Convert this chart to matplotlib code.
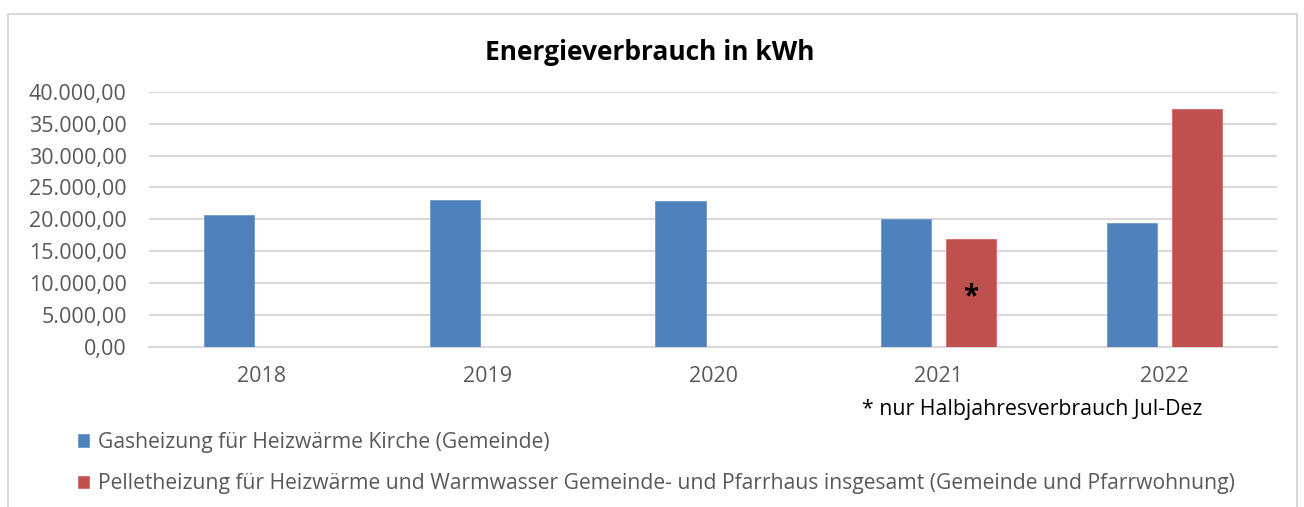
import matplotlib
matplotlib.use("Agg")
import matplotlib.pyplot as plt
import numpy as np
from matplotlib.patches import Rectangle

categories = ["2018", "2019", "2020", "2021", "2022"]
gas_values = [20630, 23090, 22875, 20000, 19380]
pellet_values = [np.nan, np.nan, np.nan, 16875, 37240]
gas_label = "Gasheizung für Heizwärme Kirche (Gemeinde)"
pellet_label = ("Pelletheizung für Heizwärme und Warmwasser Gemeinde- und Pfarrhaus "
                "insgesamt (Gemeinde und Pfarrwohnung)")
yticks = [0, 5000, 10000, 15000, 20000, 25000, 30000, 35000, 40000]
title = "Energieverbrauch in kWh"
footnote = "* nur Halbjahresverbrauch Jul-Dez"

plt.rcParams['font.family'] = ['Open Sans', 'DejaVu Sans']

W, H = 1304, 507
fig = plt.figure(figsize=(W / 100, H / 100), dpi=100)
fig.patch.set_facecolor("white")

# outer chart frame
fig.patches.append(Rectangle((8 / W, -0.05), (1297 - 8) / W, 1.05 - 13.5 / H,
                             transform=fig.transFigure, fill=False,
                             edgecolor="#D9D9D9", linewidth=1.5))

ax = fig.add_axes([149 / W, 1 - 347 / H, (1277 - 149) / W, (347 - 91.7) / H])

x = np.arange(len(categories))
off = 0.144
wid = 0.222
blue = "#4F81BD"
red = "#C0504D"
b1 = ax.bar(x - off, gas_values, width=wid, color=blue, edgecolor="#6C9AD0",
            linewidth=0.6, label=gas_label, zorder=3)
b2 = ax.bar(x + off, pellet_values, width=wid, color=red, edgecolor="#D46A67",
            linewidth=0.6, label=pellet_label, zorder=3)

ax.set_xlim(-0.5, len(categories) - 0.5)
ax.set_ylim(0, 40000)
ax.set_yticks(yticks)
ax.set_yticklabels([f"{v:,.2f}".replace(",", "X").replace(".", ",").replace("X", ".")
                    for v in yticks])
ax.set_xticks(x)
ax.set_xticklabels(categories)
ax.tick_params(axis="both", length=0, labelsize=15.5, colors="#595959")
ax.tick_params(axis="y", pad=16)
ax.tick_params(axis="x", pad=14)
ax.grid(axis="y", color="#D9D9D9", linewidth=1.5, zorder=0)
for s in ["left", "right", "top"]:
    ax.spines[s].set_visible(False)
ax.spines["bottom"].set_color("#D9D9D9")
ax.spines["bottom"].set_linewidth(1.5)

# asterisk in 2021 pellet bar
ax.text(3 + off, 7800, "*", ha="center", va="center", fontsize=20,
        fontweight="bold", color="black", zorder=4)

fig.text(650 / W, 1 - 52 / H, title, ha="center", va="center", fontsize=19,
         fontweight="bold", color="black")
fig.text(862 / W, 1 - 409 / H, footnote, ha="left", va="center", fontsize=15.3,
         color="black")

leg = fig.legend(handles=[b1, b2], loc="upper left",
                 bbox_to_anchor=(78 / W, 1 - 432 / H), frameon=False,
                 fontsize=15.2, handlelength=0.5, handleheight=0.5,
                 handletextpad=0.45, labelspacing=0.95, borderaxespad=0,
                 borderpad=0)
for t in leg.get_texts():
    t.set_color("#595959")

fig.savefig("out.png", dpi=100, facecolor="white")
